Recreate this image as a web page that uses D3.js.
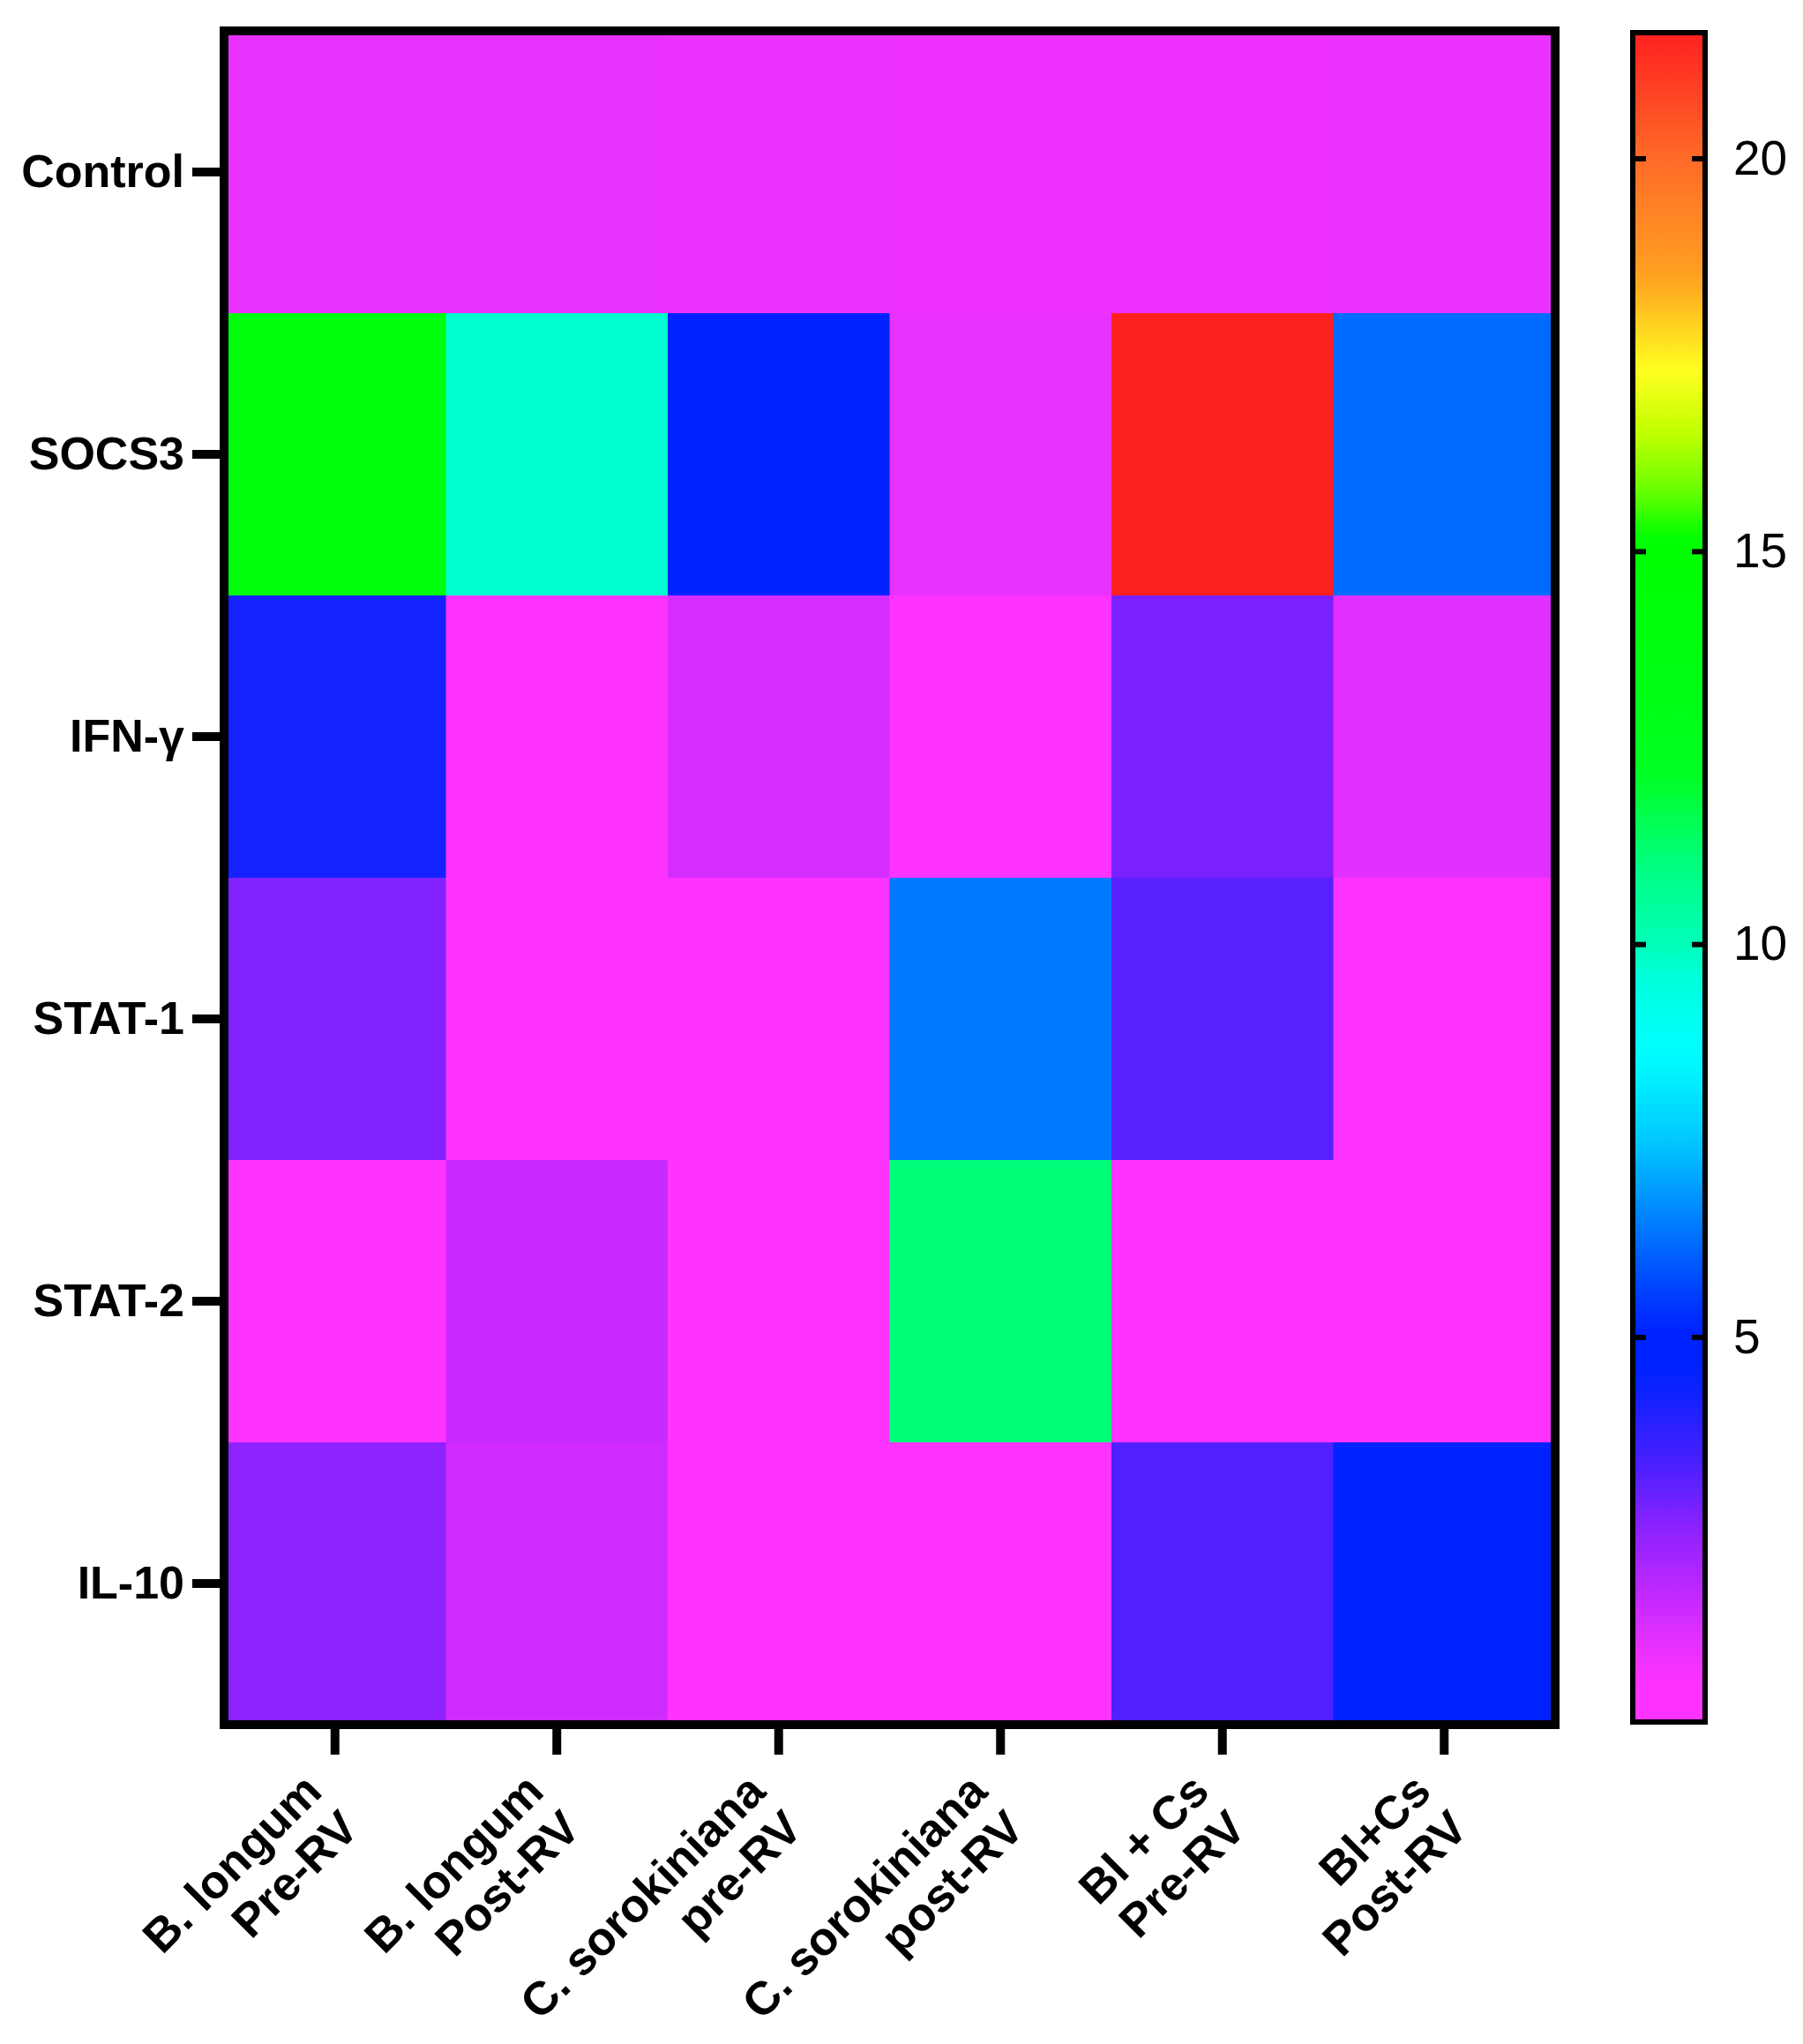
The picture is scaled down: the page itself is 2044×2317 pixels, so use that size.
<!DOCTYPE html>
<html lang="en">
<head>
    <meta charset="UTF-8">
    <title>Heatmap</title>
    <script src="https://cdnjs.cloudflare.com/ajax/libs/d3/7.8.5/d3.min.js"></script>
    <style>
        body { margin: 0; background: #fff; }
    </style>
</head>
<body>

<div id="chart_holder"></div>

<script>
    // categories
    var genes = ["Control", "SOCS3", "IFN-γ", "STAT-1", "STAT-2", "IL-10"];
    var groups = ["blPre", "blPost", "csPre", "csPost", "bcPre", "bcPost"];
    var groupLabels = [
        ["B. longum", "Pre-RV"],
        ["B. longum", "Post-RV"],
        ["C. sorokiniana", "pre-RV"],
        ["C. sorokiniana", "post-RV"],
        ["Bl + Cs", "Pre-RV"],
        ["Bl+Cs", "Post-RV"]
    ];

    // fold change per gene (rows) and group (columns)
    var control = [1.0, 1.0, 0.98, 0.9, 0.9, 0.98];
    var socs3   = [14.0, 9.7, 4.7, 1.0, 21.6, 6.2];
    var ifng    = [4.2, 0.3, 1.35, 0.3, 2.8, 1.15];
    var stat1   = [2.7, 0.3, 0.3, 6.4, 3.2, 0.3];
    var stat2   = [0.1, 1.6, 0.2, 11.1, 0.2, 0.2];
    var il10    = [2.55, 1.45, 0.2, 0.25, 3.3, 4.8];
    var values = [control, socs3, ifng, stat1, stat2, il10];

    // colour bar
    var colorTicks = [5, 10, 15, 20];
    var colorMin = 0.1;
    var colorMax = 21.6;

    // rainbow colour map (value -> colour)
    var rampValues = [0.1, 0.6, 1.1, 1.6, 2.1, 2.6, 3.3, 3.9, 4.5, 5.1, 5.8, 6.5, 7.5, 8.6, 9.5, 10.0, 11.0, 12.2, 15.2, 15.7, 16.5, 17.3, 18.5, 20.0, 21.6];
    var rampColors = ["#ff33ff", "#ff33ff", "#e430ff", "#c82aff", "#aa25ff", "#8a22ff", "#5020ff", "#2a20ff", "#0022ff", "#0022ff",
                      "#0050ff", "#0080ff", "#00c8ff", "#00ffff", "#00ffe0", "#00ffb8", "#00ff80", "#00ff20", "#00ff00", "#60ff00",
                      "#c0ff00", "#ffff20", "#ffa020", "#ff6a28", "#ff2020"];

    var width = 2044;
    var height = 2317;

    var svg = d3.select("#chart_holder")
        .append("svg")
        .attr("width", width)
        .attr("height", height);

    svg.append("rect")
        .attr("width", "100%")
        .attr("height", "100%")
        .attr("fill", "#ffffff");

    var color = d3.scaleLinear()
        .domain(rampValues)
        .range(rampColors)
        .interpolate(d3.interpolateRgb)
        .clamp(true);

    var x = d3.scaleBand().domain(groups).range([254, 1763]);
    var y = d3.scaleBand().domain(genes).range([35, 1955]);

    var cells = [];
    for (var r = 0; r < genes.length; r++) {
        for (var c = 0; c < groups.length; c++) {
            cells.push({gene: genes[r], group: groups[c], value: values[r][c]});
        }
    }

    svg.append("g")
        .selectAll("rect")
        .data(cells)
        .enter()
        .append("rect")
        .attr("x", function(d) { return x(d.group); })
        .attr("y", function(d) { return y(d.gene); })
        .attr("width", x.bandwidth() + 0.5)
        .attr("height", y.bandwidth() + 0.5)
        .attr("fill", function(d) { return color(d.value); });

    // frame
    svg.append("rect")
        .attr("x", 254)
        .attr("y", 35)
        .attr("width", 1763 - 254)
        .attr("height", 1955 - 35)
        .attr("fill", "none")
        .attr("stroke", "#000")
        .attr("stroke-width", 10);

    // y axis
    var yAxis = svg.append("g")
        .attr("transform", "translate(249,0)")
        .call(d3.axisLeft(y).tickSize(31).tickSizeOuter(0).tickPadding(9));
    yAxis.select(".domain").remove();
    yAxis.selectAll(".tick line").attr("stroke", "#000").attr("stroke-width", 10);
    yAxis.selectAll(".tick text")
        .attr("fill", "#000")
        .style("font-family", "'Liberation Sans', Arial, sans-serif")
        .style("font-weight", "bold")
        .style("font-size", "52px");

    // x axis
    var xAxis = svg.append("g")
        .attr("transform", "translate(0,1960)")
        .call(d3.axisBottom(x).tickSize(29).tickSizeOuter(0).tickFormat(""));
    xAxis.select(".domain").remove();
    xAxis.selectAll(".tick line").attr("stroke", "#000").attr("stroke-width", 10);

    var xl = svg.append("g")
        .selectAll("text")
        .data(groups)
        .enter()
        .append("text")
        .attr("transform", function(d) {
            return "translate(" + (x(d) + x.bandwidth() / 2 - 12.5) + ",2033.5) rotate(-45)";
        })
        .attr("text-anchor", "end")
        .style("font-family", "'Liberation Sans', Arial, sans-serif")
        .style("font-weight", "bold")
        .style("font-size", "53px")
        .attr("fill", "#000");

    xl.append("tspan")
        .attr("x", 0)
        .attr("dy", 0)
        .text(function(d, i) { return groupLabels[i][0]; });
    xl.append("tspan")
        .attr("x", 0)
        .attr("dy", 59)
        .text(function(d, i) { return groupLabels[i][1]; });

    // colour bar
    var cy = d3.scaleLinear().domain([colorMin, colorMax]).range([1952, 37]);

    var grad = svg.append("defs").append("linearGradient")
        .attr("id", "cbar")
        .attr("x1", 0).attr("y1", 1)
        .attr("x2", 0).attr("y2", 0);
    var samples = d3.range(0, 101).map(function(i) { return colorMin + (colorMax - colorMin) * i / 100; });
    grad.selectAll("stop")
        .data(samples)
        .enter()
        .append("stop")
        .attr("offset", function(d) { return (d - colorMin) / (colorMax - colorMin); })
        .attr("stop-color", function(d) { return color(d); });

    svg.append("rect")
        .attr("x", 1851)
        .attr("y", cy(colorMax))
        .attr("width", 1933 - 1851)
        .attr("height", cy(colorMin) - cy(colorMax))
        .attr("fill", "url(#cbar)")
        .attr("stroke", "#000")
        .attr("stroke-width", 6);

    var cRight = svg.append("g")
        .attr("transform", "translate(1930,0)")
        .call(d3.axisRight(cy).tickValues(colorTicks).tickSize(-12).tickSizeOuter(0).tickPadding(35));
    cRight.select(".domain").remove();
    cRight.selectAll(".tick line").attr("stroke", "#000").attr("stroke-width", 6);
    cRight.selectAll(".tick text")
        .attr("fill", "#000")
        .style("font-family", "'Liberation Sans', Arial, sans-serif")
        .style("font-size", "55px");

    var cLeft = svg.append("g")
        .attr("transform", "translate(1854,0)")
        .call(d3.axisLeft(cy).tickValues(colorTicks).tickSize(-12).tickSizeOuter(0).tickFormat(""));
    cLeft.select(".domain").remove();
    cLeft.selectAll(".tick line").attr("stroke", "#000").attr("stroke-width", 6);
</script>

</body>
</html>
